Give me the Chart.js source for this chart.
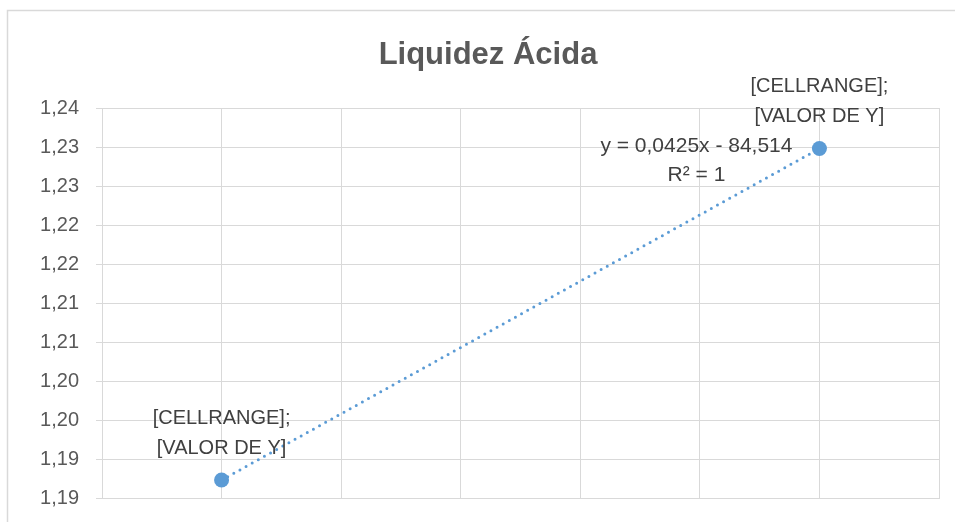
<!DOCTYPE html>
<html>
<head>
<meta charset="utf-8">
<title>Liquidez Ácida</title>
<script src="https://cdn.jsdelivr.net/npm/chart.js@4.4.1/dist/chart.umd.min.js"></script>
<style>
  html, body { margin: 0; padding: 0; background: #fff; }
  #wrap { width: 955px; height: 522px; position: relative; }
</style>
</head>
<body>
<div id="wrap"><canvas id="liquidezChart" width="955" height="522"></canvas></div>
<script>
const chartTitle = "Liquidez Ácida";
const xValues = [2016, 2017];
const yValues = [1.1873, 1.2298];
const yTickLabels = ["1,19", "1,19", "1,20", "1,20", "1,21", "1,21", "1,22", "1,22", "1,23", "1,23", "1,24"];
const yMin = 1.185;
const yStep = 0.005;
const xMin = 2015.8;
const xStep = 0.2;
const xTickCount = 8;
const pointLabelLines = ["[CELLRANGE];", "[VALOR DE Y]"];
const trendLabelLines = ["y = 0,0425x - 84,514", "R² = 1"];

const FONT = '"Liberation Sans", Arial, sans-serif';
const BLUE = "#5B9BD5";
const GRID = "#d9d9d9";

// least squares fit, drawn between first and last x
function trendPoints(xs, ys) {
  const n = xs.length;
  const mx = xs.reduce((s, v) => s + v, 0) / n;
  const my = ys.reduce((s, v) => s + v, 0) / n;
  let num = 0, den = 0;
  for (let i = 0; i < n; i++) {
    num += (xs[i] - mx) * (ys[i] - my);
    den += (xs[i] - mx) * (xs[i] - mx);
  }
  const slope = num / den;
  const icpt = my - slope * mx;
  const x0 = Math.min(...xs), x1 = Math.max(...xs);
  return [{ x: x0, y: slope * x0 + icpt }, { x: x1, y: slope * x1 + icpt }];
}

const decorPlugin = {
  id: "decor",
  beforeDraw(chart) {
    const ctx = chart.ctx;
    ctx.save();
    ctx.strokeStyle = GRID;
    ctx.lineWidth = 1.5;
    ctx.beginPath();
    ctx.moveTo(7.5, 522);
    ctx.lineTo(7.5, 10.5);
    ctx.lineTo(955, 10.5);
    ctx.stroke();
    ctx.restore();
  },
  afterDatasetsDraw(chart) {
    const ctx = chart.ctx;
    const xs = chart.scales.x, ys = chart.scales.y;
    ctx.save();

    ctx.fillStyle = "#595959";
    ctx.font = "bold 31px " + FONT;
    ctx.textAlign = "center";
    ctx.textBaseline = "middle";
    ctx.fillText(chartTitle, 488, 55);

    ctx.fillStyle = "#404040";
    ctx.font = "20px " + FONT;
    xValues.forEach((xv, i) => {
      const px = xs.getPixelForValue(xv);
      const py = ys.getPixelForValue(yValues[i]);
      ctx.fillText(pointLabelLines[0], px, py - 62);
      ctx.fillText(pointLabelLines[1], px, py - 32);
    });

    const last = xValues.length - 1;
    const tx = xs.getPixelForValue(xValues[last]) - 123;
    const ty = ys.getPixelForValue(yValues[last]);
    ctx.font = "21px " + FONT;
    ctx.fillText(trendLabelLines[0], tx, ty - 2);
    ctx.fillText(trendLabelLines[1], tx, ty + 27);
    ctx.restore();
  }
};

function renderChart() {
  const canvas = document.getElementById("liquidezChart");
  const ctx = canvas.getContext("2d");

  new Chart(ctx, {
    type: "scatter",
    data: {
      datasets: [
        {
          label: "Liquidez",
          data: xValues.map((x, i) => ({ x: x, y: yValues[i] })),
          backgroundColor: BLUE,
          borderColor: BLUE,
          pointRadius: 7.5,
          pointHoverRadius: 7.5,
          pointBorderWidth: 0
        },
        {
          label: "Tendencia",
          data: trendPoints(xValues, yValues),
          showLine: true,
          borderColor: BLUE,
          borderWidth: 3,
          borderDash: [0, 7],
          borderCapStyle: "round",
          pointRadius: 0,
          fill: false
        }
      ]
    },
    options: {
      responsive: false,
      animation: false,
      layout: { padding: { top: 108, right: 16, bottom: 24, left: 0 } },
      plugins: {
        legend: { display: false },
        tooltip: { enabled: false },
        title: { display: false }
      },
      scales: {
        x: {
          type: "linear",
          min: xMin,
          max: xMin + xStep * (xTickCount - 1),
          afterBuildTicks: (scale) => {
            const t = [];
            for (let i = 0; i < xTickCount; i++) t.push({ value: xMin + i * xStep });
            scale.ticks = t;
          },
          afterFit: (scale) => { scale.height = 0; },
          ticks: { display: false },
          grid: { color: GRID, drawTicks: false, lineWidth: 1 },
          border: { display: true, color: GRID }
        },
        y: {
          min: yMin,
          max: yMin + yStep * (yTickLabels.length - 1),
          afterBuildTicks: (scale) => {
            scale.ticks = yTickLabels.map((_, i) => ({ value: yMin + i * yStep }));
          },
          afterFit: (scale) => {
            scale.width = 102;
            scale.paddingTop = 0;
            scale.paddingBottom = 0;
          },
          ticks: {
            callback: (v, i) => yTickLabels[i],
            color: "#595959",
            font: { family: FONT, size: 20 },
            padding: 17
          },
          grid: { color: GRID, drawTicks: true, tickLength: 6, lineWidth: 1 },
          border: { display: true, color: GRID }
        }
      }
    },
    plugins: [decorPlugin]
  });
}

window.addEventListener("load", renderChart);
</script>
</body>
</html>
